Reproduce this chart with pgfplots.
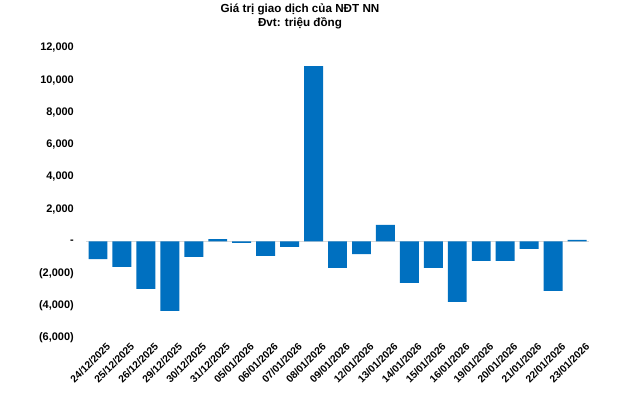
\documentclass[border=0pt]{standalone}
\usepackage{fontspec}
\setmainfont{Liberation Sans}
\usepackage{pgfplots}
\pgfplotsset{compat=1.18}
\definecolor{barblue}{RGB}{0,112,192}
\definecolor{zeroline}{RGB}{217,217,217}
\pgfplotstableread{
idx val
0 -1100
1 -1590
2 -2950
3 -4310
4 -970
5 140
6 -90
7 -910
8 -350
9 10870
10 -1650
11 -790
12 1020
13 -2580
14 -1650
15 -3760
16 -1220
17 -1220
18 -475
19 -3075
20 90
}\datatable
\begin{document}
\begin{tikzpicture}[x=1bp,y=1bp]
\path[use as bounding box, fill=white] (0,0) rectangle (640,394);
\node[font=\fontsize{11.7}{13.5}\selectfont\bfseries, align=center] at (300,377.5) {Giá trị giao dịch của NĐT NN\\Đvt: triệu đồng};
\begin{axis}[
  at={(86bp,56bp)}, anchor=south west,
  scale only axis, width=503bp, height=290bp,
  xmin=-0.5, xmax=20.5, ymin=-6000, ymax=12000,
  axis line style={draw=none}, major tick length=0pt,
  scaled ticks=false,
  ytick={-6000,-4000,...,12000},
  yticklabels={{(6,000)},{(4,000)},{(2,000)},{-\hspace{4bp}},{2,000},{4,000},{6,000},{8,000},{10,000},{12,000}},
  xtick={0,...,20},
  xticklabels={24/12/2025,25/12/2025,26/12/2025,29/12/2025,30/12/2025,31/12/2025,05/01/2026,06/01/2026,07/01/2026,08/01/2026,09/01/2026,12/01/2026,13/01/2026,14/01/2026,15/01/2026,16/01/2026,19/01/2026,20/01/2026,21/01/2026,22/01/2026,23/01/2026},
  yticklabel style={font=\fontsize{11}{13}\selectfont\bfseries, anchor=east, inner sep=0pt, xshift=-12bp},
  xticklabel style={font=\fontsize{10.3}{12}\selectfont\bfseries, rotate=45, anchor=north east, inner sep=0pt, xshift=3bp, yshift=-8bp},
  clip=false,
]
\draw[zeroline, line width=1.5bp] (axis cs:-0.5,0) -- (axis cs:20.5,0);
\addplot[ybar, bar width=0.79, fill=barblue, draw=none] table[x=idx, y=val] {\datatable};
\end{axis}
\end{tikzpicture}
\end{document}
